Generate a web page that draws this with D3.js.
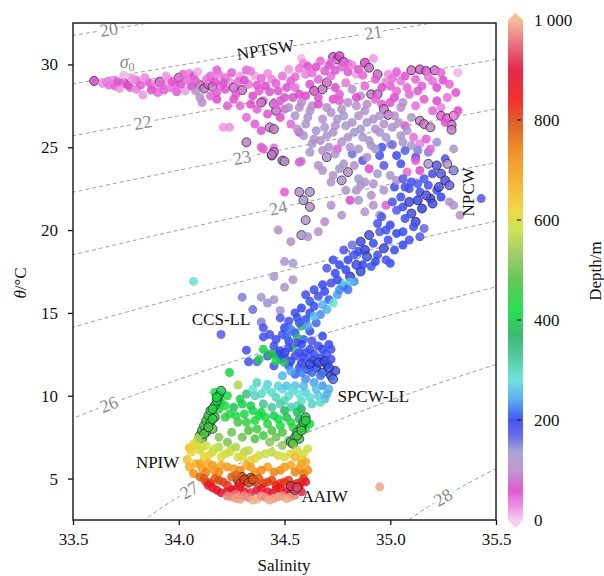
<!DOCTYPE html>
<html>
<head>
<meta charset="utf-8">
<script src="https://cdn.jsdelivr.net/npm/d3@7"></script>
<style>
  body { margin: 0; background: #fff; }
  svg text { font-family: "Liberation Serif", "Times New Roman", serif; }
</style>
</head>
<body>
<div id="chart"></div>
<script>
// [salinity, theta, depth (m), outlined]
const surfacePts = [
  [33.60,29.00,60,1],[33.64,28.85,25,0],[33.67,28.75,40,0],[33.70,28.70,50,0],[33.74,28.90,70,1],
  [33.74,29.35,10,0],[33.77,28.60,45,0],[33.80,28.50,30,0],[33.80,29.05,40,0],[33.83,28.15,20,0],
  [33.86,28.90,55,0],[33.89,28.95,15,0],[33.91,28.95,80,1],[33.93,28.45,50,0],[33.96,28.60,40,0],
  [33.98,28.80,35,0],[34.00,29.20,75,1],[34.02,29.40,45,0],[34.05,29.45,30,0],[34.07,29.30,55,0],
  [34.03,28.40,20,0],[34.06,28.70,60,0],[34.10,28.75,90,1],[34.12,28.55,85,1],[34.14,28.80,80,1],
  [34.16,28.65,95,1],[34.10,28.00,110,0],[34.11,27.70,100,0],[34.13,29.10,35,0],[34.18,29.66,50,0],
  [34.20,28.70,40,0],[34.22,28.50,55,0],[34.24,28.95,25,0],[34.26,28.60,85,1],[34.29,29.30,20,0],
  [34.32,29.66,45,0],[34.36,29.30,15,0],[34.30,28.45,80,1],[34.35,28.10,60,0],[34.38,28.40,50,0],
  [34.40,27.80,45,0],[34.39,27.70,85,1],[34.45,27.60,90,1],[34.46,27.20,80,1],[34.48,27.80,50,0],
  [34.43,26.20,95,1],[34.45,26.10,85,1],[34.32,26.80,45,0],[34.36,26.40,50,0],[34.39,26.00,55,0],
  [34.21,26.20,20,0],[34.24,26.20,25,0],[34.32,25.30,90,1],[34.39,25.00,50,0],[34.45,24.95,45,0],
  [34.44,24.50,85,1],[34.49,24.20,80,1],[34.50,22.30,50,0],[34.40,24.90,50,0],
  [33.69,29.05,30,0],[33.72,28.55,20,0],[33.88,28.65,35,0],[33.90,28.30,45,0],[33.95,29.10,25,0],
  [33.99,28.35,50,0],[34.08,28.40,100,0],[34.18,28.30,50,0],[34.22,29.20,40,0],[34.27,28.20,55,0],
  [34.33,28.80,35,0],[34.41,28.70,60,0],[34.44,29.10,30,0],[34.47,28.40,55,0],[34.50,28.00,70,0],
  [34.58,30.35,10,0],[34.59,30.05,30,0],[34.73,30.45,70,1],[34.75,30.30,80,1],[34.76,30.50,60,1],
  [34.72,30.10,40,0],[34.78,30.15,70,1],[34.80,30.05,50,0],[34.88,30.10,60,1],[34.90,29.80,80,1],
  [34.94,29.40,75,1],[34.92,30.35,20,0],[34.99,29.40,25,0],[35.03,29.55,50,0],[35.05,29.00,35,0],
  [35.10,29.65,80,1],[35.14,29.70,70,1],[35.17,29.60,75,1],[35.21,29.65,80,1],[35.24,29.50,45,0],
  [35.25,29.05,60,0],[35.20,29.00,40,0],[35.32,29.50,10,0],[35.00,28.70,50,0],[35.03,28.40,45,0],
  [34.98,28.90,30,0],
  [34.53,29.00,50,0],[34.55,28.60,40,0],[34.57,28.20,60,0],[34.60,29.40,30,0],[34.62,28.80,55,0],
  [34.64,28.40,70,1],[34.66,29.10,45,0],[34.68,28.50,85,1],[34.70,28.90,80,1],[34.72,29.30,40,0],
  [34.74,28.60,60,0],[34.76,28.20,50,0],[34.79,28.90,35,0],[34.82,28.50,110,0],[34.84,29.40,20,0],
  [34.86,28.10,100,0],[34.88,28.70,45,0],[34.91,28.20,85,1],[34.94,28.20,80,1],[34.96,27.60,50,0],
  [34.97,27.30,90,1],[34.99,26.95,85,1],[35.02,28.00,60,0],[35.06,27.70,110,0],[35.09,28.20,45,0],
  [35.12,27.50,40,0],[35.10,26.80,120,0],[35.14,26.60,90,1],[35.16,26.40,85,1],[35.19,26.20,95,1],
  [35.20,27.20,45,0],[35.24,27.40,30,0],[35.24,26.90,50,1],[35.27,26.75,45,1],[35.30,26.90,30,1],
  [35.29,26.35,80,1],[35.29,26.05,90,1],[35.26,26.50,55,0],[35.32,27.20,60,0]
];

const surfaceFillPts = [
  [33.66,28.95,35,0],[33.71,28.95,55,0],[33.76,28.75,60,0],[33.78,29.15,25,0],[33.82,28.75,50,0],
  [33.84,29.20,30,0],[33.87,28.45,65,0],[33.92,28.75,45,0],[33.94,29.30,20,0],[33.97,28.95,55,0],
  [34.01,28.80,65,0],[34.04,29.05,40,0],[34.08,29.00,50,0],[34.09,29.55,15,0],[34.15,29.30,45,0],
  [34.17,28.95,60,0],[34.19,29.40,35,0],[34.21,28.90,70,0],[34.25,29.50,50,0],[34.28,28.95,45,0],
  [34.31,29.05,60,0],[34.34,29.60,35,0],[34.37,28.75,55,0],[34.39,29.15,45,0],[34.42,29.45,25,0],
  [34.43,28.35,70,0],[34.46,28.85,50,0],[34.49,29.30,40,0],[34.51,28.60,65,0],[34.52,29.70,20,0],
  [34.55,29.25,45,0],[34.57,29.75,35,0],[34.61,29.90,55,0],[34.63,29.50,40,0],[34.65,29.85,60,0],
  [34.67,30.20,45,0],[34.69,29.60,50,0],[34.71,29.95,70,0],[34.74,29.65,55,0],[34.77,29.85,45,0],
  [34.80,29.55,65,0],[34.82,29.95,30,0],[34.85,29.70,55,0],[34.87,29.35,45,0],[34.93,29.10,50,0],
  [34.96,28.60,60,0],[35.01,29.15,40,0],[35.07,29.30,55,0],[35.12,29.10,45,0],[35.15,28.70,50,0],
  [35.18,29.25,35,0],[35.22,28.60,60,0],[35.28,28.80,45,0],[35.31,28.30,55,0],[35.27,28.00,40,0],
  [35.22,27.80,60,0],[35.16,27.90,50,0],[35.13,28.40,70,0],[35.08,28.60,45,0],[35.05,27.40,100,0],
  [35.00,27.70,55,0],[34.93,27.90,45,0],[34.89,27.60,110,0],[34.84,28.00,60,0],[34.80,27.70,100,0],
  [34.77,27.30,115,0],[34.73,27.90,60,0],[34.70,27.40,105,0],[34.66,28.00,55,0],[34.63,27.50,110,0],
  [34.60,28.10,60,0],[34.57,27.40,100,0],[34.54,28.00,65,0],[34.50,27.30,80,0],[34.48,26.80,60,0],
  [34.46,27.60,45,0],[34.42,27.00,55,0],[34.37,27.30,50,0],[34.34,27.60,60,0],[34.29,27.50,45,0],
  [34.26,27.90,55,0],[34.23,27.50,50,0],[34.18,27.90,60,0],[34.15,28.10,45,0]
];

const upperThermoPts = [
  [34.52,27.40,110,0],[34.55,26.90,120,0],[34.58,27.70,100,0],[34.60,26.40,115,0],[34.62,27.20,105,0],
  [34.65,26.00,125,0],[34.66,27.60,60,0],[34.68,26.70,110,0],[34.70,25.70,120,0],[34.72,27.10,115,0],
  [34.74,26.30,105,0],[34.76,27.80,50,0],[34.78,26.90,120,0],[34.80,25.60,110,0],[34.82,26.50,115,0],
  [34.84,27.50,105,0],[34.86,26.10,125,0],[34.88,27.20,110,0],[34.90,25.40,120,0],[34.92,26.70,100,0],
  [34.95,25.90,115,0],[34.97,26.40,105,0],[35.00,25.20,125,0],[35.02,26.90,110,0],[35.05,25.70,120,0],
  [35.07,26.30,55,0],[35.10,25.10,130,0],[34.64,25.50,100,0],[34.57,25.90,60,0],[34.53,26.40,45,0],
  [34.96,25.00,185,0],[35.01,25.15,160,0],[35.03,24.50,195,0],[35.07,24.80,175,0],[35.12,24.40,190,0],
  [35.18,24.70,150,0],[35.22,25.30,140,0],[35.26,24.30,185,0],[35.30,24.90,120,0],
  [35.11,25.60,40,0],[35.14,25.20,30,0],[35.17,25.50,50,0],[35.19,24.90,45,0],[35.13,24.80,150,0],
  [34.58,24.15,110,0],[34.62,24.70,120,0],[34.66,23.90,100,0],[34.70,24.40,110,1],[34.73,23.30,115,0],
  [34.75,24.90,50,0],[34.78,24.00,120,0],[34.80,23.50,100,1],[34.82,24.60,160,0],[34.85,23.10,130,0],
  [34.87,24.20,180,0],[34.90,23.70,60,0],[34.92,22.80,110,0],[34.95,24.50,185,0],[34.97,23.90,175,0],
  [35.00,23.30,120,0],[35.02,22.60,190,0],[35.05,24.00,190,0],[35.08,23.50,45,0],[35.10,22.90,185,0],
  [35.12,24.20,50,0],[35.14,23.60,60,0],[35.16,23.10,180,0],[35.18,24.00,120,1],[35.22,23.90,175,1],
  [35.24,23.40,170,1],[35.26,23.00,180,1],[35.28,22.70,165,1],[35.30,23.60,150,1],[35.27,24.00,110,1],
  [35.22,22.40,190,0],[35.28,21.70,110,0],[35.30,21.50,120,0],[35.43,21.90,175,0],[35.33,20.90,110,0],
  [34.56,26.10,115,0],[34.59,25.70,120,0],[34.61,26.80,110,0],[34.63,25.20,125,0],[34.67,25.40,115,0],
  [34.69,26.20,120,0],[34.71,25.00,110,0],[34.73,25.90,115,0],[34.75,26.70,120,0],[34.77,25.30,110,0],
  [34.79,26.30,125,0],[34.81,25.00,115,0],[34.83,25.90,120,0],[34.85,26.90,110,0],[34.87,25.60,115,0],
  [34.89,26.50,125,0],[34.91,25.10,120,0],[34.93,26.10,110,0],[34.95,26.90,115,0],[34.98,25.60,120,0],
  [35.01,26.20,115,0],[35.04,26.50,110,0],[35.06,25.30,125,0],[35.08,26.00,120,0],[34.68,24.80,110,0],
  [34.74,24.60,115,0],[34.85,24.90,120,0],[34.89,24.40,110,0],[34.93,24.90,125,0]
];

const lowerThermoPts = [
  [34.57,24.10,50,0],[34.50,24.15,115,1],[34.45,24.70,90,1],[34.44,24.55,85,1],
  [34.57,22.30,110,1],[34.62,22.30,120,1],[34.59,21.80,115,1],[34.62,21.40,110,1],[34.60,20.60,115,1],
  [34.47,20.00,110,0],[34.53,19.30,105,0],[34.58,19.70,115,1],[34.61,19.60,120,0],[34.66,19.90,110,0],
  [34.50,18.10,115,0],[34.54,18.00,130,0],[34.45,17.20,120,0],[34.54,17.00,110,0],[34.39,15.95,125,0],
  [34.45,15.80,110,0],[34.50,16.55,115,0],[34.35,15.20,160,0],[34.42,15.60,140,0],[34.48,15.15,120,0],
  [34.39,14.45,150,0],[34.30,15.95,150,0],[34.40,14.10,185,0],[34.40,13.55,190,0],[34.32,12.75,185,0],
  [34.33,12.05,190,0],[34.37,12.05,170,0],
  [34.72,21.50,120,0],[34.77,20.90,110,0],[34.69,20.50,100,0],[34.81,21.80,60,0],[34.79,22.40,120,0],
  [34.86,22.70,115,0],[34.91,22.10,110,0],[34.98,21.50,50,0],[35.03,23.00,100,0],[34.95,20.90,120,0],
  [34.77,23.00,130,1],
  [34.68,23.60,120,0],[34.72,22.90,110,0],[34.76,23.70,125,0],[34.83,23.90,110,0],[34.84,22.40,120,0],
  [34.88,22.90,115,0],[34.94,23.40,130,0],[34.97,22.40,120,0],[35.06,23.10,175,0],[35.07,22.60,190,0],
  [35.13,22.80,180,0],[35.18,22.70,185,0],[35.20,23.40,190,0],[35.24,22.00,200,0],[35.19,21.90,195,1],
  [35.23,22.60,180,1],[35.14,22.30,190,0],[35.01,21.70,185,0],[35.06,21.40,195,0],[35.09,21.70,190,1],
  [34.92,21.50,110,0],[34.88,21.10,120,0],[34.85,21.80,115,0]
];

const blueBandPts = [
  [35.05,22.00,190,0],[35.09,22.50,185,0],[35.13,21.80,195,1],[35.17,22.10,180,1],[35.20,21.60,190,1],
  [35.15,21.30,200,1],[35.10,21.00,185,1],[35.12,20.50,195,1],[35.07,20.70,190,0],[35.03,21.20,175,0],
  [35.00,20.30,200,0],[34.96,20.80,180,0],[35.16,20.10,165,0],[35.14,19.60,180,0],[35.11,20.20,190,0],
  [35.03,19.80,200,0],[34.99,19.40,190,0],[34.95,19.90,175,0],[34.92,19.20,195,0],[34.90,19.70,185,1],
  [34.88,18.80,200,1],[34.86,19.30,190,1],[34.83,18.50,185,0],[34.82,19.10,160,0],[34.80,18.20,195,0],
  [34.78,18.80,180,0],[34.76,17.90,200,0],[34.94,18.50,190,0],[35.00,18.00,195,0],[34.98,18.20,185,0],
  [34.91,17.80,210,0],[34.86,17.50,205,1],[34.84,17.90,190,1],[34.81,17.20,200,1],[34.74,17.40,195,0],
  [34.72,16.80,190,0],[34.78,16.60,200,0],[34.83,16.90,230,0],[34.77,16.80,270,0],[34.81,16.85,260,0],
  [34.69,16.30,195,0],[34.66,16.00,185,0],[34.71,15.80,210,0],[34.75,16.10,240,0],[34.73,15.60,280,0],
  [34.64,15.40,190,0],[34.62,15.00,200,0],[34.67,14.90,230,0],[34.70,15.20,250,0],[34.60,14.60,205,0],
  [34.65,14.40,215,0],[34.58,14.20,360,0],[34.56,14.70,190,0],[34.55,13.80,195,0],[34.62,13.90,200,0],
  [34.59,13.40,210,0],[34.52,13.30,200,0],[34.49,13.70,185,0],[34.54,12.90,360,0],[34.57,12.60,200,0],
  [34.45,13.00,190,0],[34.47,12.50,195,0],
  [34.94,20.40,185,0],[34.98,20.00,190,0],[35.06,19.90,195,0],[35.09,19.40,185,0],[35.06,19.10,200,0],
  [35.02,18.80,195,0],[34.97,18.90,190,1],[34.93,18.10,200,0],[34.89,18.40,210,1],[34.87,17.90,200,0],
  [34.85,18.70,195,0],[34.79,17.60,200,0],[34.75,17.00,195,0],[34.73,18.20,190,0],[34.70,17.70,180,0],
  [34.68,16.70,200,0],[34.64,16.40,195,0],[34.62,15.70,205,0],[34.60,16.10,190,0],[34.58,15.30,200,0],
  [34.55,15.00,195,0],[34.57,14.40,210,0],[34.52,14.50,190,0],[34.50,14.10,200,0],[34.53,14.00,220,0],
  [34.48,14.70,180,0],[34.46,13.40,195,0],[34.43,13.70,190,0],[34.51,13.60,215,0],[34.56,13.50,360,0],
  [34.61,14.20,240,0],[34.64,14.80,260,0],[34.68,15.50,250,0],[34.76,16.40,230,0],[34.80,16.40,220,0],
  [34.20,13.70,170,0],[34.07,16.90,280,0]
];

const intermediatePts = [
  [34.48,12.20,195,0],[34.52,11.80,190,0],[34.55,12.40,185,0],[34.58,12.00,200,0],[34.61,11.60,195,1],
  [34.60,12.60,190,0],[34.63,12.20,200,0],[34.65,11.70,205,1],[34.67,12.30,190,0],[34.68,11.40,210,1],
  [34.70,11.90,195,1],[34.72,11.20,200,1],[34.74,11.50,185,1],[34.73,11.00,220,1],[34.70,12.50,180,0],
  [34.66,13.00,190,0],[34.63,13.30,185,0],[34.68,13.60,200,0],[34.71,13.10,195,0],[34.56,13.20,180,0],
  [34.50,12.60,195,1],[34.45,11.80,190,0],[34.42,12.40,185,0],[34.55,11.30,215,0],[34.60,11.00,230,0],
  [34.64,10.80,240,0],[34.68,10.60,235,0],
  [34.50,12.30,190,0],[34.53,12.10,200,0],[34.57,11.70,205,0],[34.59,12.30,195,0],[34.62,11.90,200,1],
  [34.64,12.50,190,0],[34.66,12.00,200,1],[34.69,12.10,195,1],[34.71,11.70,205,1],[34.72,12.20,190,0],
  [34.67,11.20,220,0],[34.63,11.40,215,0],[34.58,11.40,225,0],[34.53,11.50,240,0],[34.49,11.20,250,0],
  [34.45,12.50,380,0],[34.48,12.70,200,0],[34.52,12.90,190,0],[34.58,13.10,200,0],[34.62,12.80,195,0],
  [34.68,12.80,200,0],[34.72,12.80,185,0],
  [34.40,12.80,400,0],[34.43,12.50,380,0],[34.46,12.10,420,0],[34.50,12.00,360,0],[34.38,12.20,410,0],
  [34.24,11.40,410,0],[34.28,10.65,560,0],
  [34.35,10.40,280,0],[34.39,10.10,290,0],[34.42,10.70,270,0],[34.46,9.90,300,0],[34.49,10.40,275,0],
  [34.52,10.00,285,0],[34.55,10.60,260,0],[34.58,9.70,290,0],[34.60,10.20,270,0],[34.63,9.50,300,0],
  [34.66,10.00,265,0],[34.69,9.80,255,0],[34.71,10.40,250,0],[34.40,9.50,330,0],[34.44,9.30,320,0],
  [34.53,9.30,310,0],[34.37,10.80,300,0],[34.32,10.10,340,0],
  [34.36,10.00,300,0],[34.41,10.40,280,0],[34.44,10.20,290,0],[34.47,10.60,270,0],[34.50,9.70,300,0],
  [34.51,10.60,260,0],[34.54,10.30,275,0],[34.57,10.10,280,0],[34.59,10.60,255,0],[34.62,9.90,285,0],
  [34.65,10.40,260,0],[34.67,9.60,290,0],[34.70,10.10,250,0],[34.56,9.40,300,0],[34.48,9.50,310,0],
  [34.17,10.20,420,0],[34.20,9.60,400,0],[34.23,10.00,430,0],[34.26,9.30,390,0],[34.29,9.80,410,0],
  [34.31,8.90,420,0],[34.34,9.40,400,0],[34.36,8.50,430,0],[34.39,9.00,410,0],[34.42,8.30,440,0],
  [34.45,8.80,400,0],[34.48,8.20,420,0],[34.51,8.70,390,0],[34.54,8.10,460,0],[34.57,8.60,380,0],
  [34.60,8.00,430,0],[34.28,8.40,470,0],[34.33,7.90,480,0],[34.40,7.60,460,0],[34.46,7.50,500,0],
  [34.52,7.30,470,0],[34.25,7.80,500,0],[34.22,8.70,450,0],[34.58,9.20,370,0],
  [34.19,9.20,420,0],[34.22,9.40,430,0],[34.24,8.90,440,0],[34.27,8.80,430,0],[34.30,9.50,400,0],
  [34.32,8.40,450,0],[34.35,9.10,410,0],[34.37,8.00,460,0],[34.38,8.80,420,0],[34.41,8.70,430,0],
  [34.44,7.90,470,0],[34.47,8.60,420,0],[34.49,7.80,480,0],[34.50,9.10,380,0],[34.53,8.40,430,0],
  [34.56,9.00,390,0],[34.62,8.30,420,0],[34.30,7.50,500,0],[34.36,7.40,480,0],[34.23,7.20,510,0],
  [34.19,7.50,520,0],[34.43,7.20,520,0],[34.49,7.00,530,0],
  [34.10,7.60,480,1],[34.11,7.90,470,1],[34.12,8.20,460,1],[34.13,8.50,450,1],[34.14,8.80,440,1],
  [34.15,9.10,440,1],[34.17,9.40,430,1],[34.18,9.70,420,1],[34.19,10.00,410,1],[34.13,7.80,470,1],
  [34.15,8.40,460,1],[34.16,8.00,480,1],[34.17,8.70,450,1],[34.20,10.30,400,1],
  [34.11,7.40,490,1],[34.12,7.70,480,1],[34.14,8.10,470,1],[34.16,8.60,450,1],[34.16,9.20,440,1],
  [34.18,9.90,420,1],
  [34.53,7.20,480,1],[34.55,7.50,470,1],[34.56,7.80,460,1],[34.58,8.10,450,1],[34.59,8.40,440,1],
  [34.57,7.40,470,1],[34.60,8.70,430,1],[34.54,7.10,490,1],[34.56,7.60,470,1],[34.58,7.90,455,1],
  [34.60,8.50,440,1]
];

const deepPts = [
  [34.05,6.85,660,0],[34.04,6.15,650,0],[34.07,7.10,600,0],[34.10,6.70,590,0],[34.13,7.00,580,0],
  [34.16,6.60,570,0],[34.19,6.90,560,0],[34.22,6.50,580,0],[34.25,6.80,570,0],[34.28,6.30,590,0],
  [34.31,6.60,560,0],[34.34,6.10,600,0],[34.12,6.30,610,0],[34.09,7.40,560,0],[34.38,6.40,580,0],
  [34.44,6.60,570,0],[34.50,6.30,590,0],[34.56,6.70,580,0],[34.58,6.20,620,0],
  [34.06,6.60,620,0],[34.08,7.00,600,0],[34.11,6.90,590,0],[34.14,6.40,610,0],[34.17,6.80,580,0],
  [34.20,6.30,600,0],[34.24,6.60,590,0],[34.27,6.90,560,0],[34.30,6.30,600,0],[34.33,6.70,570,0],
  [34.36,6.20,610,0],[34.41,6.50,590,0],[34.47,6.40,600,0],[34.53,6.50,610,0],[34.59,6.50,600,0],
  [34.61,6.80,580,0],
  [34.08,5.90,670,0],[34.11,5.60,700,0],[34.14,5.90,680,0],[34.17,5.50,720,0],[34.20,5.80,690,0],
  [34.26,5.60,700,0],[34.32,5.80,680,0],[34.36,5.40,720,0],[34.42,5.70,700,0],[34.48,5.50,730,0],
  [34.53,5.80,690,0],[34.57,5.60,710,0],[34.60,6.00,680,0],[34.59,5.30,750,0],[34.55,6.30,660,0],
  [34.05,5.70,680,0],[34.07,5.30,720,0],[34.10,5.90,690,0],[34.13,5.40,740,0],[34.16,5.80,700,0],
  [34.19,5.40,730,0],[34.23,5.70,710,0],[34.29,5.50,740,0],[34.34,5.70,700,0],[34.39,5.50,730,0],
  [34.45,5.40,740,0],[34.50,5.70,700,0],[34.55,5.40,740,0],[34.58,5.90,690,0],[34.61,5.50,720,0],
  [34.10,5.10,780,0],[34.13,4.80,800,0],[34.17,5.00,790,0],[34.21,4.80,810,0],[34.25,5.10,780,0],
  [34.28,4.90,800,1],[34.30,5.10,790,1],[34.32,4.90,810,1],[34.34,5.05,800,1],[34.36,4.85,790,1],
  [34.40,4.70,820,0],[34.44,4.90,800,0],[34.48,4.70,820,0],[34.52,4.90,810,0],[34.56,4.70,830,0],
  [34.59,5.00,800,0],
  [34.12,5.00,790,0],[34.15,4.70,810,0],[34.19,4.90,800,0],[34.23,4.60,820,0],[34.27,5.20,780,0],
  [34.29,4.70,815,1],[34.31,4.95,800,1],[34.33,4.75,805,1],[34.35,4.95,795,1],[34.38,5.00,790,0],
  [34.42,4.80,810,0],[34.46,4.60,830,0],[34.50,4.80,815,0],[34.54,4.60,830,0],[34.58,4.80,820,0],
  [34.18,4.30,880,0],[34.23,4.20,900,0],[34.27,4.40,870,0],[34.31,4.20,890,0],[34.37,4.30,900,0],
  [34.42,4.20,880,0],[34.46,4.35,870,0],[34.51,4.25,890,0],[34.55,4.45,860,0],[34.60,4.80,880,0],
  [34.14,4.60,860,0],
  [34.16,4.45,870,0],[34.20,4.15,900,0],[34.25,4.30,890,0],[34.29,4.50,860,0],[34.34,4.15,910,0],
  [34.39,4.40,880,0],[34.44,4.10,910,0],[34.48,4.40,870,0],[34.53,4.10,900,0],[34.57,4.55,860,0],
  [34.58,4.20,910,0],
  [34.25,3.90,980,0],[34.29,3.75,990,0],[34.33,3.85,970,0],[34.37,3.75,1000,0],[34.41,3.85,980,0],
  [34.45,3.80,990,0],[34.49,3.95,970,0],[34.53,3.90,985,0],[34.27,4.05,960,0],[34.95,4.50,990,0],
  [34.23,3.95,970,0],[34.27,3.80,985,0],[34.31,3.95,975,0],[34.35,3.70,995,0],[34.39,3.95,975,0],
  [34.43,3.70,990,0],[34.47,3.90,985,0],[34.51,3.80,990,0],[34.55,4.00,975,0],
  [34.54,4.40,930,1],[34.55,4.30,940,1],[34.53,4.55,920,1],[34.56,4.45,935,1]
];

const xTicks = [33.5, 34.0, 34.5, 35.0, 35.5];
const yTicks = [5, 10, 15, 20, 25, 30];
const depthTicks = [0, 200, 400, 600, 800, 1000];
const depthTickLabels = ["0", "200", "400", "600", "800", "1 000"];

const sigmaLevels = [20, 21, 22, 23, 24, 25, 26, 27, 28];
const sigmaLabelS = [33.67, 34.92, 33.83, 34.30, 34.47, 34.82, 33.67, 34.05, 35.25];

const massNames = ["NPTSW", "NPCW", "CCS-LL", "SPCW-LL", "NPIW", "AAIW"];
const massS = [34.41, 35.37, 34.20, 34.92, 33.90, 34.69];
const massT = [30.87, 22.3, 14.63, 9.98, 6.0, 3.89];
const massRot = [-9, -90, 0, 0, 0, 0];

// colour map for depth
const cmapDepth = [0, 30, 60, 100, 135, 170, 200, 240, 280, 330, 370, 420, 480, 530, 580, 620, 680, 740, 790, 840, 900, 950, 1000];
const cmapColor = ["#f3c8ef", "#ea80de", "#dd48cc", "#b98cc9", "#9d9ccc", "#5a5ae6", "#3045f0", "#4aa2f0",
  "#62e0d8", "#42c290", "#28b262", "#12dc42", "#52c244", "#94c45e", "#c8e044", "#eed232", "#f5aa22",
  "#ef8212", "#d85612", "#f01a18", "#e01234", "#e45e72", "#f4b68a"];

const serif = '"Liberation Serif", "Times New Roman", serif';
const W = 604, H = 576;
const x = d3.scaleLinear().domain([33.5, 35.5]).range([73, 496]);
const y = d3.scaleLinear().domain([2.5, 32.5]).range([520, 23]);
const color = d3.scaleLinear().domain(cmapDepth).range(cmapColor).clamp(true);

const svg = d3.select("#chart").append("svg")
  .attr("width", W).attr("height", H);

const defs = svg.append("defs");
defs.append("clipPath").attr("id", "plotclip")
  .append("rect").attr("x", 73).attr("y", 23).attr("width", 423).attr("height", 497);

// UNESCO EOS-80 potential density anomaly at p = 0
function sigma0(S, T) {
  const rw = 999.842594 + 6.793952e-2 * T - 9.095290e-3 * T * T + 1.001685e-4 * T ** 3
    - 1.120083e-6 * T ** 4 + 6.536332e-9 * T ** 5;
  const A = 8.24493e-1 - 4.0899e-3 * T + 7.6438e-5 * T * T - 8.2467e-7 * T ** 3 + 5.3875e-9 * T ** 4;
  const B = -5.72466e-3 + 1.0227e-4 * T - 1.6546e-6 * T * T;
  const C = 4.8314e-4;
  return rw + A * S + B * S ** 1.5 + C * S * S - 1000;
}
function isoT(level, S) {
  let lo = -2, hi = 45;
  for (let i = 0; i < 60; i++) {
    const mid = (lo + hi) / 2;
    if (sigma0(S, mid) > level) lo = mid; else hi = mid;
  }
  return (lo + hi) / 2;
}

// isopycnals
const sGrid = d3.range(33.3, 35.71, 0.01);
const contourG = svg.append("g").attr("clip-path", "url(#plotclip)");
const line = d3.line().x(d => x(d[0])).y(d => y(d[1]));
sigmaLevels.forEach(lv => {
  contourG.append("path")
    .attr("d", line(sGrid.map(s => [s, isoT(lv, s)])))
    .attr("fill", "none")
    .attr("stroke", "#9a9a9a")
    .attr("stroke-width", 1)
    .attr("stroke-dasharray", "4,3");
});
sigmaLevels.forEach((lv, i) => {
  const s = sigmaLabelS[i];
  const px = x(s), py = y(isoT(lv, s));
  const ang = Math.atan2(y(isoT(lv, s + 0.03)) - y(isoT(lv, s - 0.03)), x(s + 0.03) - x(s - 0.03)) * 180 / Math.PI;
  contourG.append("text")
    .attr("transform", `translate(${px},${py}) rotate(${ang})`)
    .attr("text-anchor", "middle")
    .attr("dominant-baseline", "central")
    .attr("font-size", 18)
    .attr("fill", "#8a8a8a")
    .attr("stroke", "#fff")
    .attr("stroke-width", 7)
    .attr("paint-order", "stroke")
    .text(lv);
});
const sigLab = svg.append("text")
  .attr("x", x(33.756)).attr("y", y(30.15))
  .attr("text-anchor", "middle").attr("dominant-baseline", "central")
  .attr("font-size", 18).attr("fill", "#8a8a8a");
sigLab.append("tspan").attr("font-style", "italic").text("σ");
sigLab.append("tspan").attr("font-size", 12).attr("dy", 5).text("0");

// points
const allPts = [].concat(surfacePts, surfaceFillPts, upperThermoPts, lowerThermoPts, blueBandPts, intermediatePts, deepPts);
svg.append("g").attr("clip-path", "url(#plotclip)")
  .selectAll("circle")
  .data(allPts)
  .join("circle")
  .attr("cx", d => x(d[0]))
  .attr("cy", d => y(d[1]))
  .attr("r", 4.5)
  .attr("fill", d => color(d[2]))
  .attr("fill-opacity", 0.85)
  .attr("stroke", d => d[3] ? "#2a1a2a" : "none")
  .attr("stroke-opacity", 0.8)
  .attr("stroke-width", 0.9);

// water mass labels
massNames.forEach((nm, i) => {
  svg.append("text")
    .attr("transform", `translate(${x(massS[i])},${y(massT[i])}) rotate(${massRot[i]})`)
    .attr("text-anchor", "middle")
    .attr("dominant-baseline", "central")
    .attr("font-size", 17)
    .attr("fill", "#111")
    .text(nm);
});

// axes
const xAxis = svg.append("g").attr("transform", "translate(0,520)")
  .call(d3.axisBottom(x).tickValues(xTicks).tickFormat(d3.format(".1f")).tickSize(5).tickPadding(8));
const yAxis = svg.append("g").attr("transform", "translate(73,0)")
  .call(d3.axisLeft(y).tickValues(yTicks).tickSize(5).tickPadding(10));
[xAxis, yAxis].forEach(a => {
  a.attr("font-family", null);
  a.select(".domain").remove();
  a.selectAll("line").attr("stroke", "#111").attr("stroke-width", 1.3);
  a.selectAll("text").attr("font-size", 17).attr("fill", "#111");
});
svg.append("rect")
  .attr("x", 73).attr("y", 23).attr("width", 423).attr("height", 497)
  .attr("fill", "none").attr("stroke", "#222").attr("stroke-width", 1.5);

svg.append("text")
  .attr("x", 284).attr("y", 571)
  .attr("text-anchor", "middle").attr("font-size", 17).attr("fill", "#111")
  .text("Salinity");
const yt = svg.append("text")
  .attr("transform", "translate(26,283) rotate(-90)")
  .attr("text-anchor", "middle").attr("font-size", 17).attr("fill", "#111");
yt.append("tspan").attr("font-style", "italic").text("θ");
yt.append("tspan").text("/°C");

// colour bar
const cb = d3.scaleLinear().domain([0, 1000]).range([520, 20]);
const grad = defs.append("linearGradient").attr("id", "cbgrad")
  .attr("x1", 0).attr("y1", 1).attr("x2", 0).attr("y2", 0);
grad.selectAll("stop").data(cmapDepth).join("stop")
  .attr("offset", d => d / 1000)
  .attr("stop-color", d => color(d));
svg.append("rect")
  .attr("x", 508).attr("y", cb(1000)).attr("width", 15).attr("height", cb(0) - cb(1000))
  .attr("fill", "url(#cbgrad)").attr("opacity", 0.9);
svg.append("path")
  .attr("d", `M508,${cb(1000)}L515.5,${cb(1000) - 7}L523,${cb(1000)}Z`)
  .attr("fill", color(1000)).attr("opacity", 0.9);
svg.append("path")
  .attr("d", `M508,${cb(0)}L515.5,${cb(0) + 8}L523,${cb(0)}Z`)
  .attr("fill", color(0)).attr("opacity", 0.9);
svg.append("g").selectAll("line")
  .data(depthTicks.filter(d => d > 0 && d < 1000))
  .join("line")
  .attr("x1", 517).attr("x2", 521)
  .attr("y1", d => cb(d)).attr("y2", d => cb(d))
  .attr("stroke", "#222").attr("stroke-width", 1.2);
svg.append("g").selectAll("text")
  .data(depthTicks)
  .join("text")
  .attr("x", 534).attr("y", d => cb(d))
  .attr("dominant-baseline", "central")
  .attr("font-size", 17).attr("fill", "#111")
  .text((d, i) => depthTickLabels[i]);
svg.append("text")
  .attr("transform", "translate(595,271) rotate(-90)")
  .attr("text-anchor", "middle").attr("dominant-baseline", "central")
  .attr("font-size", 17).attr("fill", "#111")
  .text("Depth/m");

svg.selectAll("text").style("font-family", serif);
</script>
</body>
</html>
